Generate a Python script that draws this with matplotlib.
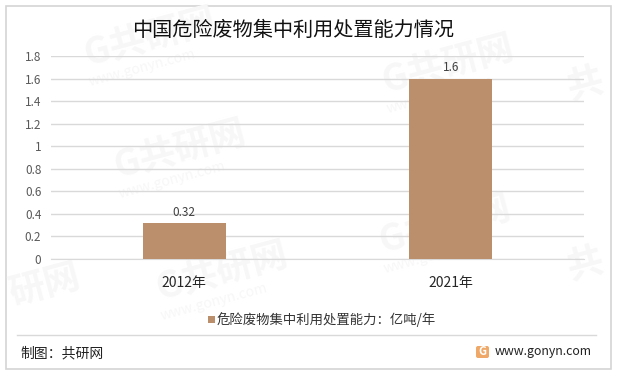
import matplotlib
matplotlib.use("Agg")
import matplotlib.pyplot as plt
from matplotlib.patches import Rectangle, FancyBboxPatch

plt.rcParams['font.family'] = ['Noto Sans CJK SC', 'DejaVu Sans']

W, H = 618, 375
categories = ["2012年", "2021年"]
values = [0.32, 1.6]
value_labels = ["0.32", "1.6"]
y_ticks = [0, 0.2, 0.4, 0.6, 0.8, 1, 1.2, 1.4, 1.6, 1.8]
y_tick_labels = ["0", "0.2", "0.4", "0.6", "0.8", "1", "1.2", "1.4", "1.6", "1.8"]
title = "中国危险废物集中利用处置能力情况"
legend_label = "危险废物集中利用处置能力：亿吨/年"
footer_left = "制图：共研网"
footer_right = "www.gonyn.com"
# faint stamps: (x, y, stamp text)
watermarks = [(150, 38, "G共研网"), (180, 150, "G共研网"), (222, 272, "G共研网"),
              (445, 225, "G共研网"), (448, 65, "G共研网"), (45, 285, "研网"),
              (585, 85, "共"), (585, 265, "共")]

BAR_COLOR = "#BC8F6C"
GRID_COLOR = "#D9D9D9"
MARK_COLOR = "#F7F7F7"

fig = plt.figure(figsize=(W / 100, H / 100), dpi=100, facecolor="white")

# background layer in pixel coordinates
bg = fig.add_axes([0, 0, 1, 1])
bg.set_xlim(0, W)
bg.set_ylim(H, 0)
bg.axis("off")
bg.add_patch(Rectangle((5.5, 5.5), 605, 363, fc="white", ec="#D4D4D4", lw=1.2))
bg.plot([17, 596], [335, 335], color="#D9D9D9", lw=1)

for wx, wy, stamp in watermarks:
    bg.text(wx, wy, stamp, fontsize=26, fontweight="bold", color=MARK_COLOR,
            rotation=15, ha="center", va="center")
    if len(stamp) > 2:
        bg.text(wx - 8, wy + 30, "www.gonyn.com", fontsize=10, color=MARK_COLOR,
                rotation=15, ha="center", va="center")

# plot area: x 51..584, y 56..259 px
ax = fig.add_axes([51 / W, 1 - 259 / H, 533 / W, 203 / H])
ax.patch.set_alpha(0)
x = range(len(categories))
bars = ax.bar(x, values, width=0.313, color=BAR_COLOR, zorder=3)
ax.set_xlim(-0.5, 1.5)
ax.set_ylim(0, 1.8)
ax.set_yticks(y_ticks)
ax.set_yticklabels(y_tick_labels, fontsize=8.5, color="#595959")
ax.set_xticks(list(x))
ax.set_xticklabels(categories, fontsize=10, color="#262626")
ax.tick_params(axis="both", length=0)
ax.tick_params(axis="x", pad=12)
ax.tick_params(axis="y", pad=7)
ax.grid(axis="y", color=GRID_COLOR, lw=1, zorder=0)
for s in ["top", "right", "left"]:
    ax.spines[s].set_visible(False)
ax.spines["bottom"].set_color(GRID_COLOR)
for b, lab in zip(bars, value_labels):
    ax.annotate(lab, (b.get_x() + b.get_width() / 2, b.get_height()), xytext=(0, 3),
                textcoords="offset points", ha="center", va="bottom", fontsize=8.5, color="#404040")

# top layer for the text around the plot
top = fig.add_axes([0, 0, 1, 1])
top.set_xlim(0, W)
top.set_ylim(H, 0)
top.axis("off")
top.patch.set_alpha(0)
top.text(293, 30, title, fontsize=14.5, color="#111111", ha="center", va="center")
top.add_patch(Rectangle((208, 316), 7, 7, fc=BAR_COLOR, ec="none"))
top.text(217, 320, legend_label, fontsize=9.6, color="#333333", ha="left", va="center")
top.text(20, 353, footer_left, fontsize=10, color="#222222", ha="left", va="center")
top.text(495, 352, footer_right, fontsize=8.9, color="#222222", ha="left", va="center")

# small logo next to the url
top.add_patch(FancyBboxPatch((476, 346), 13, 12, boxstyle="round,pad=0,rounding_size=2",
                             fc="#F0A868", ec="none"))
top.text(482.5, 351.5, "G", fontsize=8, fontweight="bold", color="white", ha="center", va="center")

fig.savefig("out.png", dpi=100)
